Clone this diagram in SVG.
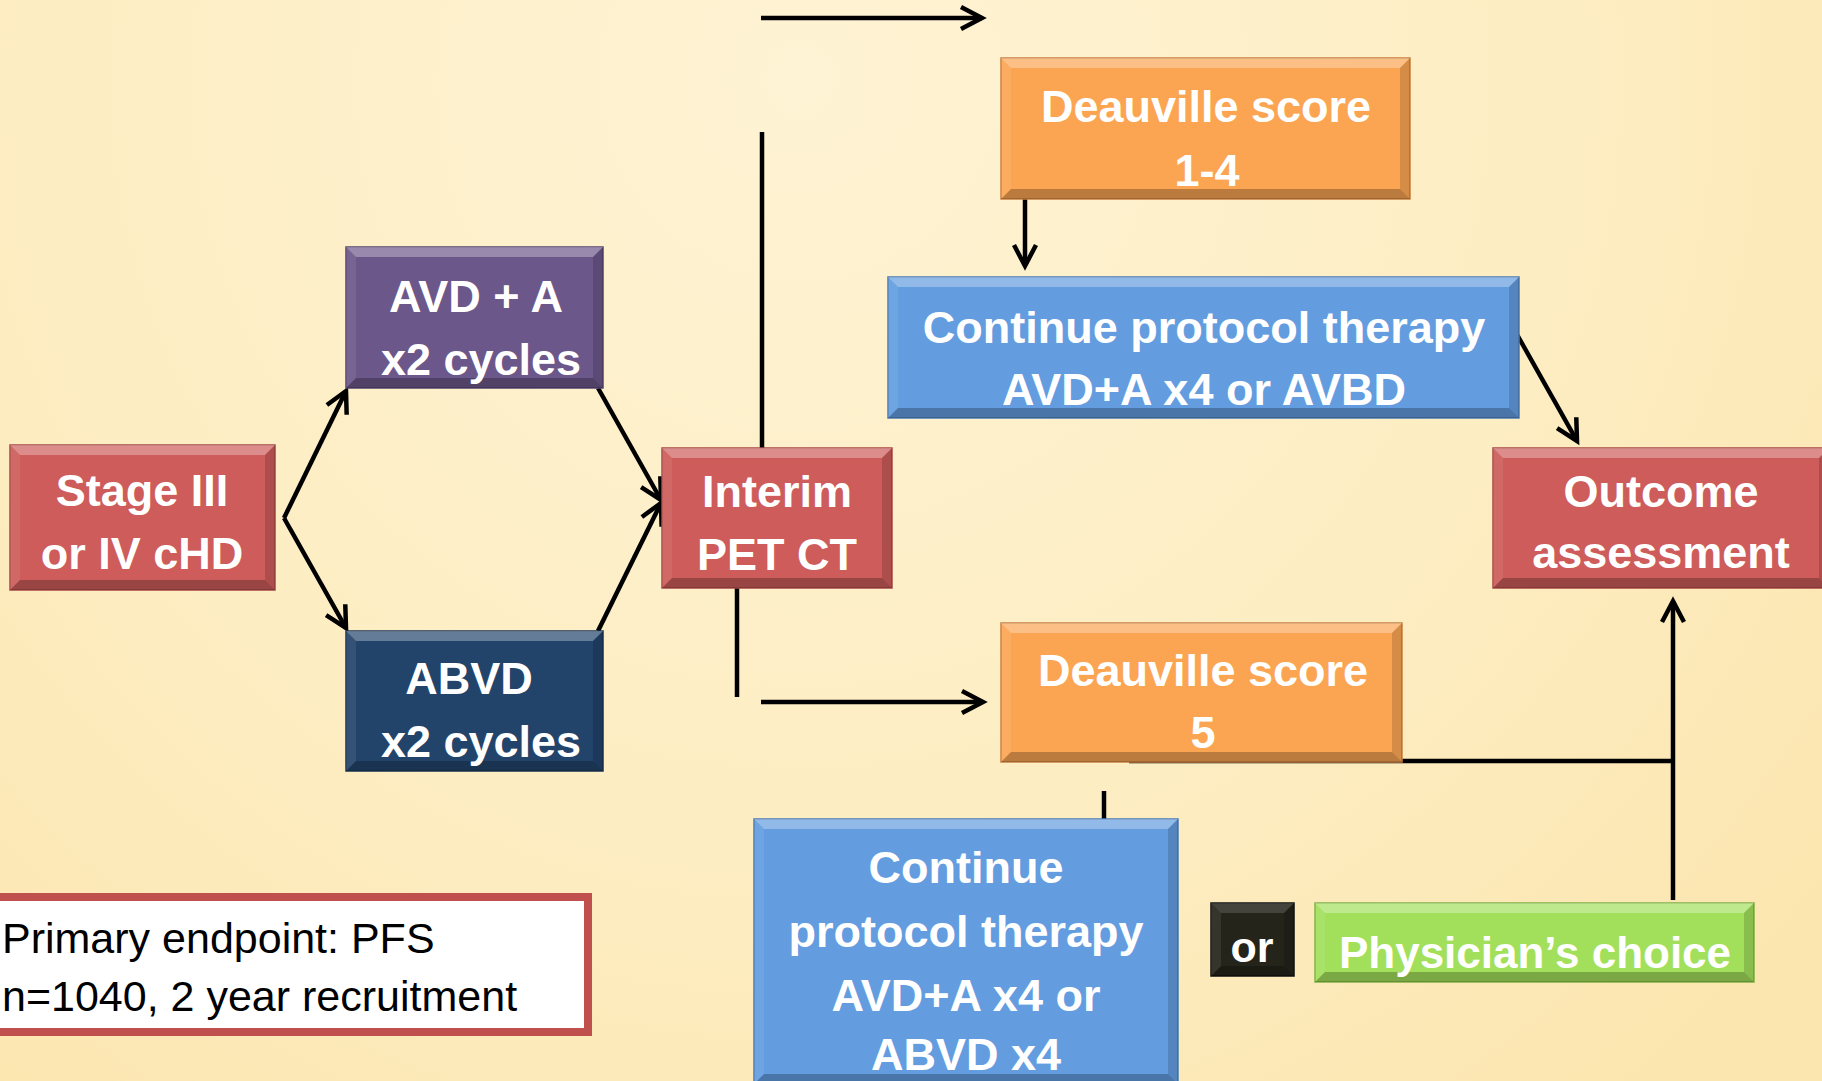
<svg xmlns="http://www.w3.org/2000/svg" width="1822" height="1081" viewBox="0 0 1822 1081">
<defs>
<radialGradient id="bg" cx="800" cy="80" r="1300" gradientUnits="userSpaceOnUse">
<stop offset="0" stop-color="#FEF3D4"/>
<stop offset="0.6" stop-color="#FDEDC2"/>
<stop offset="1" stop-color="#FCE6B0"/>
</radialGradient>
<marker id="arr" viewBox="-4 -4 32 32" markerWidth="32" markerHeight="32" refX="22" refY="12" orient="auto" markerUnits="userSpaceOnUse">
<path d="M1,1 L22,12 L1,23" fill="none" stroke="#000" stroke-width="4.5" stroke-linejoin="miter"/>
</marker>
<style>
.t{font-family:"Liberation Sans",Arial,sans-serif;font-weight:bold;font-size:45px;fill:#fff;text-anchor:middle}
.p{font-family:"Liberation Sans",Arial,sans-serif;font-size:43px;fill:#000}
.hl{fill:#fff;opacity:.3}
.sl{fill:#fff;opacity:.08}
.sd{fill:#000;opacity:.15}
.sh{fill:#000;opacity:.25}
.red{fill:#CD5C5A;stroke:#A84846;stroke-width:1.5}
.pur{fill:#6C578A;stroke:#554370;stroke-width:1.5}
.nav{fill:#22446B;stroke:#183353;stroke-width:1.5}
.org{fill:#FBA553;stroke:#C98040;stroke-width:1.5}
.blu{fill:#639DE0;stroke:#4A7BB5;stroke-width:1.5}
.blk{fill:#25241B;stroke:#111;stroke-width:1.5}
.grn{fill:#A2E05C;stroke:#7FB343;stroke-width:1.5}
.ln{fill:none;stroke:#000;stroke-width:4.5}
</style>
</defs>
<rect x="0" y="0" width="1822" height="1081" fill="url(#bg)"/>

<g id="connectors">
<line class="ln" x1="761" y1="18" x2="982" y2="18" marker-end="url(#arr)"/>
<line class="ln" x1="762" y1="132" x2="762" y2="448"/>
<line class="ln" x1="284" y1="518" x2="346" y2="391" marker-end="url(#arr)"/>
<line class="ln" x1="284" y1="518" x2="346" y2="628" marker-end="url(#arr)"/>
<line class="ln" x1="598" y1="388" x2="661" y2="500" marker-end="url(#arr)"/>
<line class="ln" x1="598" y1="631" x2="661" y2="503" marker-end="url(#arr)"/>
<line class="ln" x1="737" y1="583" x2="737" y2="697"/>
<line class="ln" x1="761" y1="702" x2="983" y2="702" marker-end="url(#arr)"/>
<line class="ln" x1="1025" y1="193" x2="1025" y2="266" marker-end="url(#arr)"/>
<line class="ln" x1="1515" y1="331" x2="1577" y2="441" marker-end="url(#arr)"/>
<line class="ln" x1="1129" y1="761" x2="1675" y2="761"/>
<line class="ln" x1="1673" y1="900" x2="1673" y2="601" marker-end="url(#arr)"/>
<line class="ln" x1="1104" y1="791" x2="1104" y2="822"/>
</g>

<g id="stage">
<rect class="red" x="10" y="445" width="265" height="145"/>
<polygon class="hl" points="10,445 275,445 265,455 20,455"/>
<polygon class="sh" points="10,590 275,590 265,580 20,580"/>
<polygon class="sl" points="10,445 20,455 20,580 10,590"/>
<polygon class="sd" points="275,445 265,455 265,580 275,590"/>
<text class="t" x="142" y="506">Stage III</text>
<text class="t" x="142" y="569">or IV cHD</text>
</g>

<g id="avda">
<rect class="pur" x="346" y="247" width="257" height="141"/>
<polygon class="hl" points="346,247 603,247 593,257 356,257"/>
<polygon class="sh" points="346,388 603,388 593,378 356,378"/>
<polygon class="sl" points="346,247 356,257 356,378 346,388"/>
<polygon class="sd" points="603,247 593,257 593,378 603,388"/>
<text class="t" x="476" y="312">AVD + A</text>
<text class="t" x="481" y="375">x2 cycles</text>
</g>

<g id="abvd">
<rect class="nav" x="346" y="631" width="257" height="140"/>
<polygon class="hl" points="346,631 603,631 593,641 356,641"/>
<polygon class="sh" points="346,771 603,771 593,761 356,761"/>
<polygon class="sl" points="346,631 356,641 356,761 346,771"/>
<polygon class="sd" points="603,631 593,641 593,761 603,771"/>
<text class="t" x="469" y="694">ABVD</text>
<text class="t" x="481" y="757">x2 cycles</text>
</g>

<g id="interim">
<rect class="red" x="662" y="448" width="230" height="140"/>
<polygon class="hl" points="662,448 892,448 882,458 672,458"/>
<polygon class="sh" points="662,588 892,588 882,578 672,578"/>
<polygon class="sl" points="662,448 672,458 672,578 662,588"/>
<polygon class="sd" points="892,448 882,458 882,578 892,588"/>
<text class="t" x="777" y="507">Interim</text>
<text class="t" x="777" y="570">PET CT</text>
</g>

<g id="deauville14">
<rect class="org" x="1001" y="58" width="409" height="141"/>
<polygon class="hl" points="1001,58 1410,58 1400,68 1011,68"/>
<polygon class="sh" points="1001,199 1410,199 1400,189 1011,189"/>
<polygon class="sl" points="1001,58 1011,68 1011,189 1001,199"/>
<polygon class="sd" points="1410,58 1400,68 1400,189 1410,199"/>
<text class="t" x="1206" y="122">Deauville score</text>
<text class="t" x="1207" y="186">1-4</text>
</g>

<g id="continue1">
<rect class="blu" x="888" y="277" width="631" height="141"/>
<polygon class="hl" points="888,277 1519,277 1509,287 898,287"/>
<polygon class="sh" points="888,418 1519,418 1509,408 898,408"/>
<polygon class="sl" points="888,277 898,287 898,408 888,418"/>
<polygon class="sd" points="1519,277 1509,287 1509,408 1519,418"/>
<text class="t" x="1204" y="343">Continue protocol therapy</text>
<text class="t" x="1204" y="405">AVD+A x4 or AVBD</text>
</g>

<g id="outcome">
<rect class="red" x="1493" y="448" width="336" height="140"/>
<polygon class="hl" points="1493,448 1829,448 1819,458 1503,458"/>
<polygon class="sh" points="1493,588 1829,588 1819,578 1503,578"/>
<polygon class="sl" points="1493,448 1503,458 1503,578 1493,588"/>
<polygon class="sd" points="1829,448 1819,458 1819,578 1829,588"/>
<text class="t" x="1661" y="507">Outcome</text>
<text class="t" x="1661" y="568">assessment</text>
</g>

<g id="deauville5">
<rect class="org" x="1001" y="623" width="401" height="139"/>
<polygon class="hl" points="1001,623 1402,623 1392,633 1011,633"/>
<polygon class="sh" points="1001,762 1402,762 1392,752 1011,752"/>
<polygon class="sl" points="1001,623 1011,633 1011,752 1001,762"/>
<polygon class="sd" points="1402,623 1392,633 1392,752 1402,762"/>
<text class="t" x="1203" y="686">Deauville score</text>
<text class="t" x="1203" y="748">5</text>
</g>

<g id="continue2">
<rect class="blu" x="754" y="819" width="424" height="265"/>
<polygon class="hl" points="754,819 1178,819 1168,829 764,829"/>
<polygon class="sh" points="754,1084 1178,1084 1168,1074 764,1074"/>
<polygon class="sl" points="754,819 764,829 764,1074 754,1084"/>
<polygon class="sd" points="1178,819 1168,829 1168,1074 1178,1084"/>
<text class="t" x="966" y="883">Continue</text>
<text class="t" x="966" y="947">protocol therapy</text>
<text class="t" x="966" y="1011">AVD+A x4 or</text>
<text class="t" x="966" y="1070">ABVD x4</text>
</g>

<g id="or">
<rect class="blk" x="1211" y="903" width="83" height="73"/>
<polygon class="hl" points="1211,903 1294,903 1284,913 1221,913" style="opacity:.15"/>
<polygon class="sh" points="1211,976 1294,976 1284,966 1221,966"/>
<polygon class="sl" points="1211,903 1221,913 1221,966 1211,976"/>
<polygon class="sd" points="1294,903 1284,913 1284,966 1294,976"/>
<text class="t" x="1252" y="962" style="font-size:43px">or</text>
</g>

<g id="physician">
<rect class="grn" x="1315" y="903" width="439" height="79"/>
<polygon class="hl" points="1315,903 1754,903 1744,913 1325,913"/>
<polygon class="sh" points="1315,982 1754,982 1744,972 1325,972"/>
<polygon class="sl" points="1315,903 1325,913 1325,972 1315,982"/>
<polygon class="sd" points="1754,903 1744,913 1744,972 1754,982"/>
<text class="t" x="1535" y="968" style="font-size:44px">Physician’s choice</text>
</g>

<g id="endpoint">
<rect x="-10" y="897" width="598" height="135" fill="#fff" stroke="#C0504D" stroke-width="8"/>
<text class="p" x="2" y="953">Primary endpoint: PFS</text>
<text class="p" x="2" y="1011">n=1040, 2 year recruitment</text>
</g>
</svg>
